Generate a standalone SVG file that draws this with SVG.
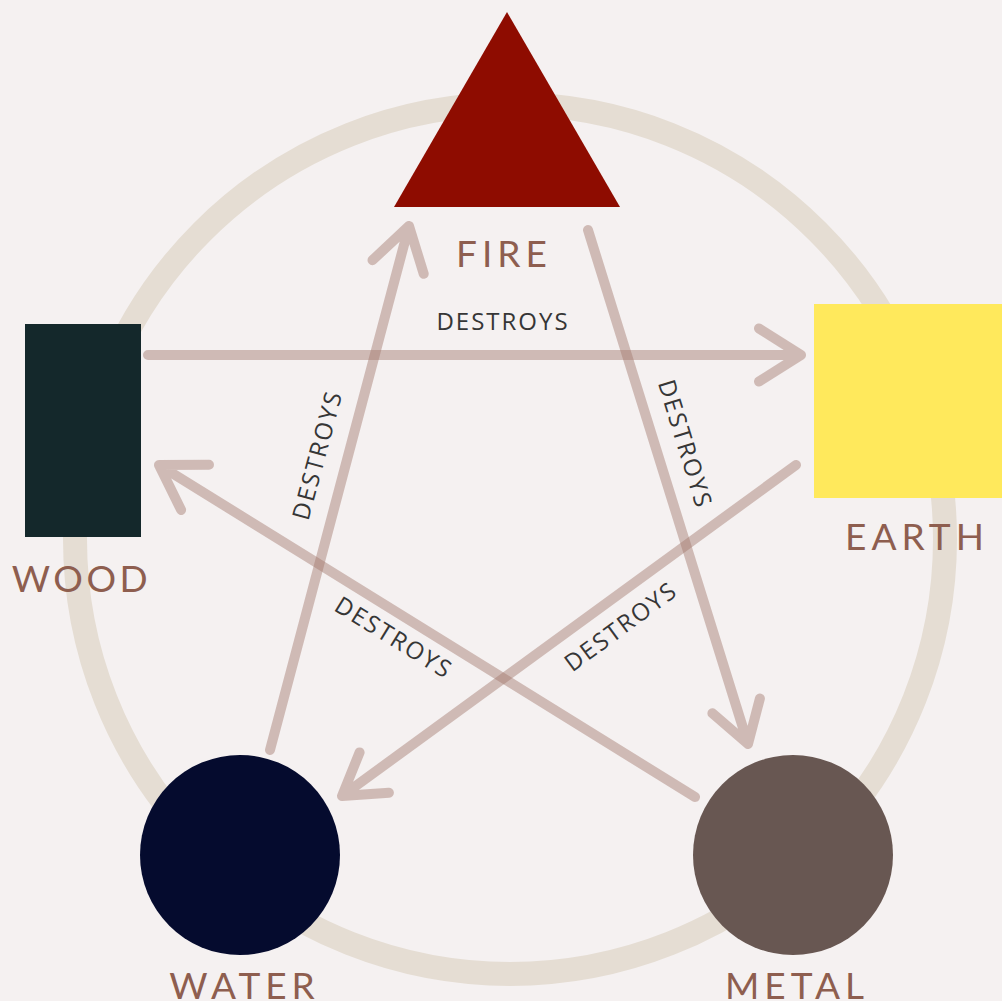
<svg xmlns="http://www.w3.org/2000/svg" width="1002" height="1001" viewBox="0 0 1002 1001">
<style>
.arrow{fill:none;stroke:#a2776c;stroke-opacity:0.45;stroke-width:10;stroke-linecap:round;stroke-linejoin:round}
.lbl{font-family:"Open Sans","DejaVu Sans",sans-serif;font-size:24px;letter-spacing:2px;fill:#363636;text-anchor:middle}
.name{font-family:Lato,"Open Sans",sans-serif;font-size:37px;letter-spacing:5px;fill:#8e5e4f;text-anchor:middle}
</style>
<rect width="1002" height="1001" fill="#f5f1f1"/>
<circle id="ring" cx="510" cy="539" r="435" fill="none" stroke="#e5ddd3" stroke-width="24"/>
<g id="connectors">
<path class="arrow" d="M148,355 L801,355 M759,328.5 L801,355 L759,381.5"/>
<path class="arrow" d="M270,750 L409,226 M372.5,260.2 L409,226 L423.7,273.8"/>
<path class="arrow" d="M588,230 L748,744 M759.9,698.5 L748,744 L712.4,713.3"/>
<path class="arrow" d="M796,465 L342,796 M388.9,792.7 L342,796 L359.6,752.4"/>
<path class="arrow" d="M695,797 L159,465 M181.1,509.9 L159,465 L209,464.8"/>
<text class="lbl" x="503" y="330">DESTROYS</text>
<text class="lbl" transform="translate(317,456) rotate(-75)" x="1" y="8.5">DESTROYS</text>
<text class="lbl" transform="translate(685,443) rotate(73)" x="1" y="8.5">DESTROYS</text>
<text class="lbl" transform="translate(393,637) rotate(31.6)" x="1" y="8.5">DESTROYS</text>
<text class="lbl" transform="translate(620,627) rotate(-36.4)" x="1" y="8.5">DESTROYS</text>
</g>
<g id="fire">
<polygon points="507,12 620,207 394,207" fill="#8e0c00"/>
<text class="name" x="504" y="267">FIRE</text>
</g>
<g id="wood">
<rect x="25" y="324" width="116" height="213" fill="#14282b"/>
<text class="name" x="81.5" y="592" style="letter-spacing:3.5px">WOOD</text>
</g>
<g id="earth">
<rect x="814" y="304" width="188" height="194" fill="#ffe95c"/>
<text class="name" x="917" y="550">EARTH</text>
</g>
<g id="water">
<circle cx="240" cy="855" r="100" fill="#050b2e"/>
<text class="name" x="244.5" y="999">WATER</text>
</g>
<g id="metal">
<circle cx="793" cy="855" r="100" fill="#685752"/>
<text class="name" x="797" y="999">METAL</text>
</g>
</svg>
